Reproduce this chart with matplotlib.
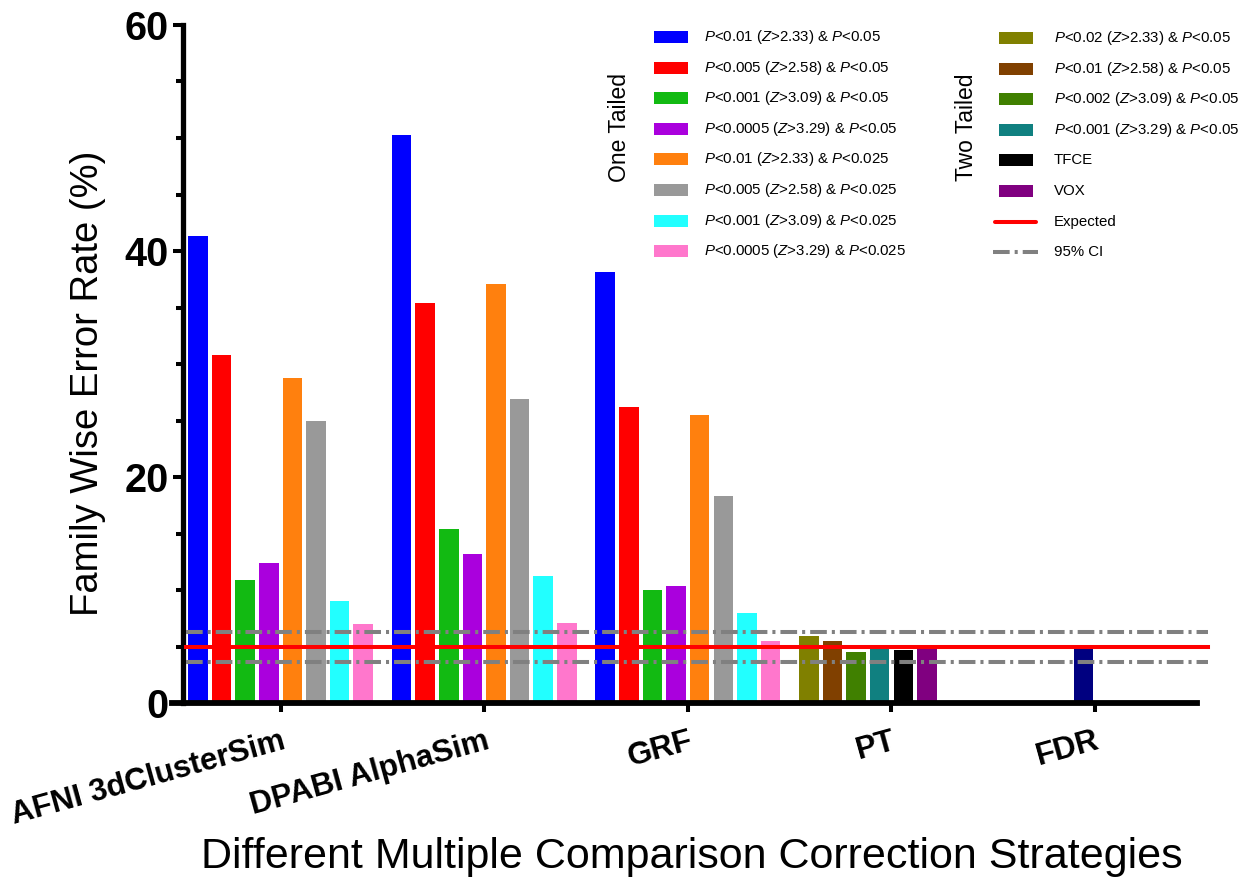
import matplotlib
matplotlib.use('Agg')
import matplotlib.pyplot as plt
import numpy as np
from matplotlib.patches import Rectangle
from matplotlib.lines import Line2D
from matplotlib.ticker import MultipleLocator

plt.rcParams['font.family'] = ['Liberation Sans', 'DejaVu Sans']
plt.rcParams['mathtext.fontset'] = 'custom'
plt.rcParams['mathtext.it'] = 'Liberation Sans:italic'
plt.rcParams['mathtext.rm'] = 'Liberation Sans'
plt.rcParams['lines.scale_dashes'] = False

# ---------------- data ----------------
groups = ['AFNI 3dClusterSim', 'DPABI AlphaSim', 'GRF', 'PT', 'FDR']

one_tailed_labels = [
    r'$\mathit{P}$<0.01 ($\mathit{Z}$>2.33) & $\mathit{P}$<0.05',
    r'$\mathit{P}$<0.005 ($\mathit{Z}$>2.58) & $\mathit{P}$<0.05',
    r'$\mathit{P}$<0.001 ($\mathit{Z}$>3.09) & $\mathit{P}$<0.05',
    r'$\mathit{P}$<0.0005 ($\mathit{Z}$>3.29) & $\mathit{P}$<0.05',
    r'$\mathit{P}$<0.01 ($\mathit{Z}$>2.33) & $\mathit{P}$<0.025',
    r'$\mathit{P}$<0.005 ($\mathit{Z}$>2.58) & $\mathit{P}$<0.025',
    r'$\mathit{P}$<0.001 ($\mathit{Z}$>3.09) & $\mathit{P}$<0.025',
    r'$\mathit{P}$<0.0005 ($\mathit{Z}$>3.29) & $\mathit{P}$<0.025',
]
one_tailed_colors = ['#0000FF', '#FF0000', '#12BA12', '#AA00DD',
                     '#FF800E', '#999999', '#22FFFF', '#FF77CC']
afni = [41.3, 30.8, 10.9, 12.4, 28.8, 25.0, 9.0, 7.0]
dpabi = [50.3, 35.4, 15.4, 13.2, 37.1, 26.9, 11.2, 7.1]
grf = [38.1, 26.2, 10.0, 10.4, 25.5, 18.3, 8.0, 5.5]

two_tailed_labels = [
    r'$\mathit{P}$<0.02 ($\mathit{Z}$>2.33) & $\mathit{P}$<0.05',
    r'$\mathit{P}$<0.01 ($\mathit{Z}$>2.58) & $\mathit{P}$<0.05',
    r'$\mathit{P}$<0.002 ($\mathit{Z}$>3.09) & $\mathit{P}$<0.05',
    r'$\mathit{P}$<0.001 ($\mathit{Z}$>3.29) & $\mathit{P}$<0.05',
    'TFCE',
    'VOX',
]
two_tailed_colors = ['#808000', '#804000', '#408000', '#108080', '#000000', '#800080']
pt = [5.9, 5.5, 4.5, 4.9, 4.7, 4.8]

fdr = [4.9]
fdr_color = '#000080'

expected = 5.0
ci_low, ci_high = 3.6, 6.3

# ---------------- figure ----------------
W, H = 1244, 880
fig = plt.figure(figsize=(W / 100, H / 100), dpi=100)
ax = fig.add_axes([0.1471, 0.2011, 0.8151, 0.7705])

pitch = 0.116
width = 0.096
xg = np.arange(len(groups))

one_vals = np.array([afni, dpabi, grf])  # groups x series
for k in range(len(one_tailed_labels)):
    ax.bar(xg[:3] + (k - 3.5) * pitch, one_vals[:, k], width,
           color=one_tailed_colors[k], zorder=2)
for k in range(len(two_tailed_labels)):
    ax.bar(xg[3] + (k - 3.5) * pitch, pt[k], width,
           color=two_tailed_colors[k], zorder=2)
ax.bar(xg[4] - 0.5 * pitch, fdr, width, color=fdr_color, zorder=2)

ci_dash = (12, 3.6, 2.2, 3.6)
ci_kw = dict(color='#808080', lw=2.9, dashes=ci_dash, clip_on=False, zorder=4)
ax.axhline(ci_high, xmin=0.003, xmax=1.011, **ci_kw)
ax.axhline(ci_low, xmin=0.003, xmax=1.011, **ci_kw)
ax.axhline(expected, xmin=0.003, xmax=1.011, color='#FF0000', lw=2.9,
           clip_on=False, zorder=5)

ax.set_xlim(-0.479, 4.5)
ax.set_ylim(0, 60)

for s in ['top', 'right']:
    ax.spines[s].set_visible(False)
ax.spines['left'].set_linewidth(3.8)
ax.spines['bottom'].set_linewidth(4.2)
ax.spines['bottom'].set_bounds(-0.535, 4.5)

ax.set_yticks([0, 20, 40, 60])
ax.yaxis.set_minor_locator(MultipleLocator(5))
ax.tick_params(axis='y', which='major', length=7, width=2.9, pad=3.5,
               labelsize=28.5)
ax.tick_params(axis='y', which='minor', length=5, width=2.9)
for lab in ax.get_yticklabels():
    lab.set_fontweight('bold')

ax.set_xticks(xg)
ax.set_xticklabels(groups, rotation=15.5, ha='right', rotation_mode='anchor',
                   fontsize=22.5, fontweight='bold')
ax.tick_params(axis='x', which='major', length=6.5, width=2.9, pad=10)

fig.text(88 / W, 1 - 383 / H, 'Family Wise Error Rate (%)', rotation=90,
         ha='center', va='center', fontsize=27.5)
fig.text(692 / W, 1 - 857 / H, 'Different Multiple Comparison Correction Strategies',
         ha='center', va='center', fontsize=31)

# ---------------- legends (drawn manually) ----------------
def fx(px):
    return px / W


def fy(py):
    return 1 - py / H


row_gap = 30.6
leg_fs = 10.8


def patch_row(x0, y, color, label, text_x):
    fig.add_artist(Rectangle((fx(x0), fy(y + 6)), 34 / W, 12 / H,
                             transform=fig.transFigure, facecolor=color,
                             edgecolor='none'))
    fig.text(fx(text_x), fy(y), label, ha='left', va='center', fontsize=leg_fs)


for i, (lab, col) in enumerate(zip(one_tailed_labels, one_tailed_colors)):
    patch_row(654, 37 + i * row_gap, col, lab, 704)

for i, (lab, col) in enumerate(zip(two_tailed_labels, two_tailed_colors)):
    patch_row(999, 38 + i * row_gap, col, lab, 1054)

y_exp = 38 + 6 * row_gap
fig.add_artist(Line2D([fx(995), fx(1036)], [fy(y_exp)] * 2, transform=fig.transFigure,
                      color='#FF0000', lw=2.9, solid_capstyle='round'))
fig.text(fx(1054), fy(y_exp), 'Expected', ha='left', va='center', fontsize=leg_fs)

y_ci = 38 + 7 * row_gap
fig.add_artist(Line2D([fx(993), fx(1038)], [fy(y_ci)] * 2, transform=fig.transFigure,
                      color='#808080', lw=2.9, dashes=ci_dash))
fig.text(fx(1054), fy(y_ci), '95% CI', ha='left', va='center', fontsize=leg_fs)

fig.text(620 / W, 1 - 127 / H, 'One Tailed', rotation=90, ha='center',
         va='center', fontsize=16.5)
fig.text(967 / W, 1 - 127 / H, 'Two Tailed', rotation=90, ha='center',
         va='center', fontsize=16.5)

fig.savefig('out.png', dpi=100)
